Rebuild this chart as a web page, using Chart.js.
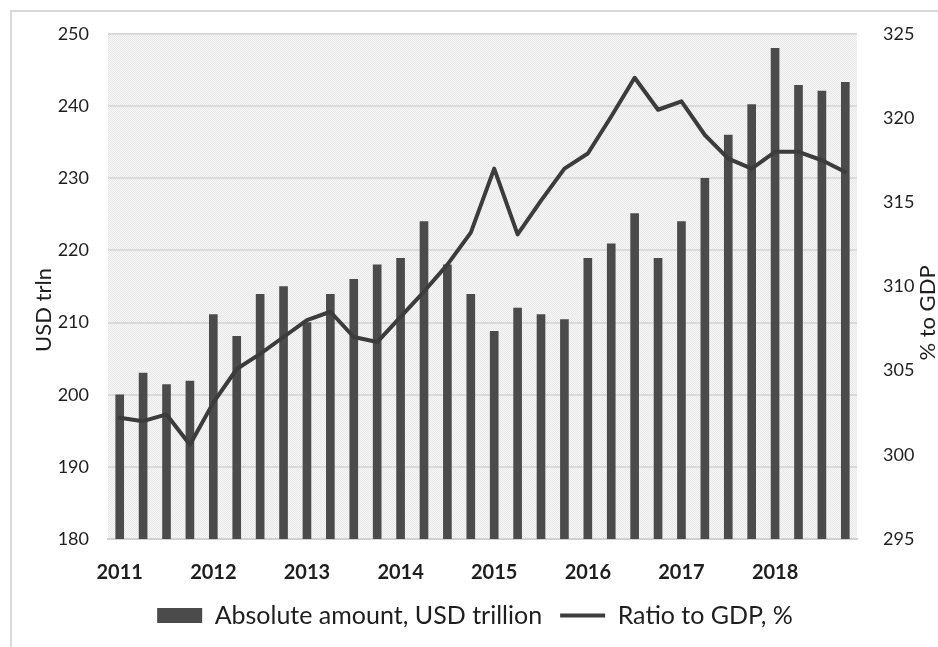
<!DOCTYPE html>
<html>
<head>
<meta charset="utf-8">
<script src="https://cdn.jsdelivr.net/npm/chart.js@4/dist/chart.umd.min.js"></script>
<style>
  html, body { margin: 0; padding: 0; background: #fff; }
  #wrap { position: relative; width: 938px; height: 647px; }
</style>
</head>
<body>
<div id="wrap"><canvas id="debtChart" width="938" height="647"></canvas></div>
<script>
// quarterly labels, year shown on Q1 only
const years = ['2011', '2012', '2013', '2014', '2015', '2016', '2017', '2018'];
const quarterLabels = [];
years.forEach(y => { quarterLabels.push(y, '', '', ''); });

// absolute amount, USD trillion
const amountUsd = [
  200, 203, 201.4, 201.9,
  211.1, 208.1, 213.9, 215,
  210, 213.9, 216, 218,
  218.9, 224, 218, 213.9,
  208.8, 212, 211.1, 210.4,
  218.9, 220.9, 225.1, 218.9,
  224, 230, 236, 240.2,
  248, 242.9, 242.1, 243.3
];

// ratio to GDP, %
const ratioGdp = [
  302.2, 302.0, 302.4, 300.6,
  303.1, 305.1, 306.0, 307.0,
  308.0, 308.5, 307.0, 306.7,
  308.2, 309.7, 311.3, 313.2,
  317.0, 313.1, 315.1, 317.0,
  317.9, 320.1, 322.4, 320.5,
  321.0, 319.0, 317.6, 317.0,
  318.0, 318.0, 317.5, 316.8
];

const leftTitle = 'USD trln';
const rightTitle = '% to GDP';

const textColor = '#1e1e1e';
const barColor = '#4b4b4b';
const lineColor = '#3c3c3c';

// stippled fill behind the plot
function makeStipple() {
  const c = document.createElement('canvas');
  c.width = 4; c.height = 4;
  const g = c.getContext('2d');
  for (let i = 0; i < 4; i++) {
    for (let j = 0; j < 4; j++) {
      g.fillStyle = (i + j) % 2 === 0 ? '#e8e8e8' : '#f7f7f7';
      g.fillRect(i, j, 1, 1);
    }
  }
  return g.createPattern(c, 'repeat');
}

const backdrop = {
  id: 'backdrop',
  beforeDraw(chart) {
    const ctx = chart.ctx;
    const a = chart.chartArea;
    ctx.save();
    ctx.fillStyle = '#d9d9d9';
    ctx.fillRect(10, 10, 928, 2);
    ctx.fillRect(10, 10, 2, 637);
    ctx.fillStyle = makeStipple();
    ctx.fillRect(a.left, a.top, a.right - a.left, a.bottom - a.top);
    ctx.restore();
  }
};

// both axis titles read bottom-to-top
function drawTitle(ctx, text, x, y) {
  ctx.save();
  ctx.setTransform(1, 0, 0, 1, x, y);
  ctx.rotate(-Math.PI / 2);
  ctx.font = '22px Lato';
  ctx.fillStyle = textColor;
  ctx.textAlign = 'center';
  ctx.textBaseline = 'middle';
  ctx.fillText(text, 0, 0);
  ctx.restore();
}

const axisTitles = {
  id: 'axisTitles',
  afterDraw(chart) {
    drawTitle(chart.ctx, leftTitle, 44, 310);
    drawTitle(chart.ctx, rightTitle, 928, 313);
  }
};

new Chart(document.getElementById('debtChart'), {
  type: 'bar',
  data: {
    labels: quarterLabels,
    datasets: [
      {
        type: 'bar',
        label: 'Absolute amount, USD trillion',
        data: amountUsd,
        backgroundColor: barColor,
        borderWidth: 0,
        barThickness: 8,
        yAxisID: 'y',
        pointStyle: 'rect',
        order: 2
      },
      {
        type: 'line',
        label: 'Ratio to GDP, %',
        data: ratioGdp,
        borderColor: lineColor,
        backgroundColor: lineColor,
        borderWidth: 4,
        borderJoinStyle: 'round',
        borderCapStyle: 'round',
        tension: 0,
        pointRadius: 0,
        pointStyle: 'line',
        yAxisID: 'y1',
        order: 1
      }
    ]
  },
  options: {
    responsive: false,
    animation: false,
    layout: { padding: { left: 12, right: 0, top: 34, bottom: 9 } },
    plugins: {
      tooltip: { enabled: false },
      legend: {
        position: 'bottom',
        labels: {
          usePointStyle: true,
          pointStyleWidth: 45,
          boxHeight: 15,
          padding: 18,
          color: textColor,
          font: { family: 'Lato', size: 25 },
          sort: (a, b) => a.datasetIndex - b.datasetIndex
        }
      }
    },
    scales: {
      x: {
        afterFit(scale) { scale.height = 46; },
        grid: { display: false, drawTicks: false },
        border: { display: true, color: '#d0d0d0', width: 2 },
        ticks: {
          autoSkip: false,
          maxRotation: 0,
          padding: 22,
          color: textColor,
          font: { family: 'Lato', size: 20, weight: 'bold' }
        }
      },
      y: {
        position: 'left',
        min: 180,
        max: 250,
        afterFit(scale) { scale.width = 96; },
        border: { display: false },
        grid: { color: '#dadada', lineWidth: 2, drawTicks: false },
        ticks: {
          stepSize: 10,
          padding: 19,
          color: textColor,
          font: { family: 'Lato', size: 18 }
        }
      },
      y1: {
        position: 'right',
        min: 295,
        max: 325,
        afterFit(scale) { scale.width = 81; },
        border: { display: false },
        grid: { display: false, drawOnChartArea: false },
        ticks: {
          stepSize: 5,
          padding: 18,
          color: textColor,
          font: { family: 'Lato', size: 18 }
        }
      }
    }
  },
  plugins: [backdrop, axisTitles]
});
</script>
</body>
</html>
